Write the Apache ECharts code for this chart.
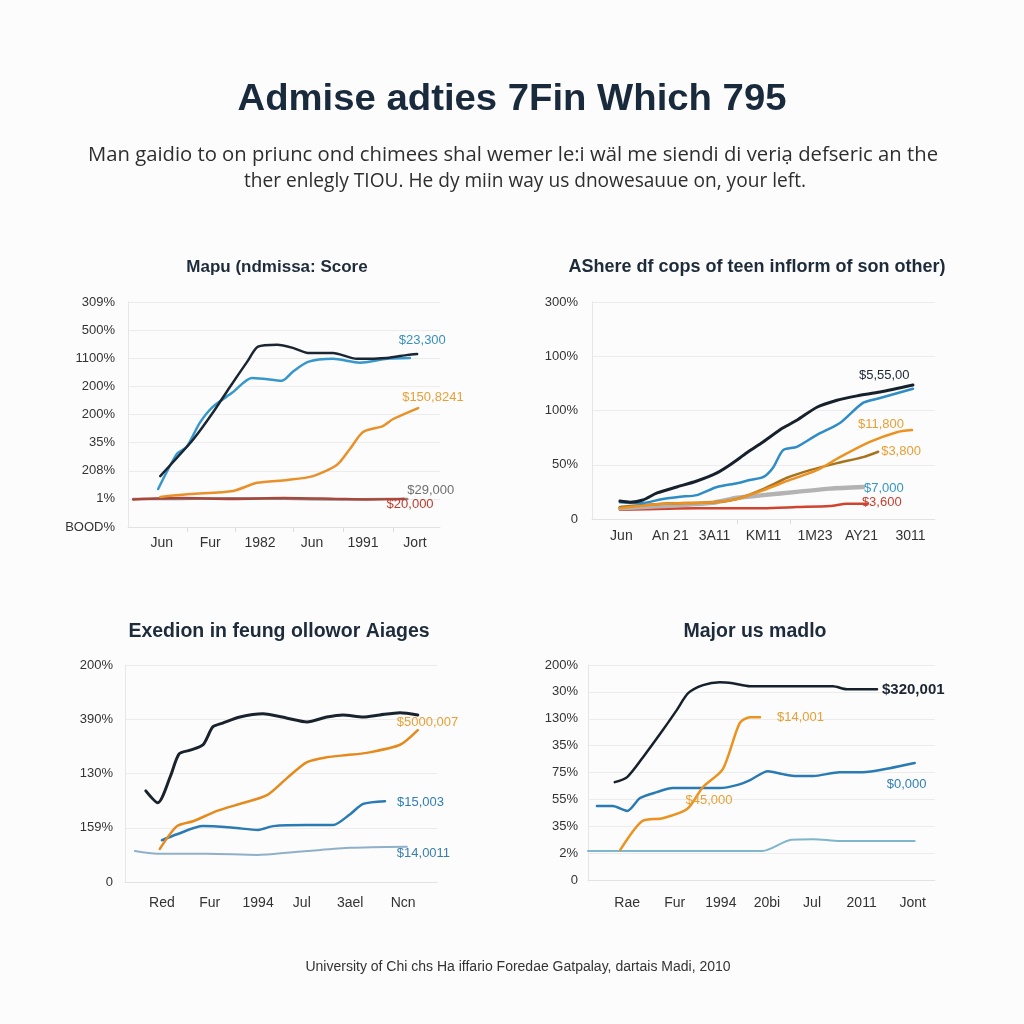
<!DOCTYPE html>
<html><head><meta charset="utf-8">
<script src="https://cdn.jsdelivr.net/npm/echarts@6/dist/echarts.min.js"></script>
<style>html,body{margin:0;padding:0;background:#fcfcfc}#c{width:1024px;height:1024px}</style>
</head><body><div id="c"></div>
<script>
// ---------- texts ----------
const mainTitle = 'Admise adties 7Fin Which 795';
const subLine1 = 'Man gaidio to on priunc ond chimees shal wemer le:i wäl me siendi di veriạ defseric an the';
const subLine2 = 'ther enlegly TIOU. He dy miin way us dnowesauue on, your left.';
const footer = 'University of Chi chs Ha iffario Foredae Gatpalay, dartais Madi, 2010';

// ---------- panel 1 ----------
const p1Title = 'Mapu (ndmissa: Score';
const p1YLabels = ['BOOD%','1%','208%','35%','200%','200%','1100%','500%','309%'];
const p1XLabels = ['Jun','Fur','1982','Jun','1991','Jort'];
const p1XPos = [0.65,1.58,2.54,3.54,4.52,5.52];
const p1Black = [[0.62,1.81],[0.94,2.46],[1.25,3.1],[1.63,4.06],[1.96,4.98],[2.29,5.87],[2.5,6.41],[2.87,6.48],[3.17,6.37],[3.46,6.19],[3.94,6.19],[4.4,5.98],[4.98,6.01],[5.38,6.12],[5.56,6.15]];
const p1Blue = [[0.58,1.35],[0.94,2.6],[1.13,2.85],[1.38,3.7],[1.63,4.27],[2.0,4.77],[2.38,5.3],[2.6,5.27],[2.96,5.2],[3.17,5.52],[3.46,5.87],[3.94,5.98],[4.46,5.84],[4.98,5.98],[5.42,6.01]];
const p1Orange = [[0.62,1.07],[1.19,1.17],[2.02,1.28],[2.48,1.57],[3.06,1.67],[3.56,1.81],[4.02,2.21],[4.27,2.78],[4.52,3.38],[4.9,3.59],[5.1,3.84],[5.58,4.23]];
const p1Gray = [[0.1,1.0],[1,1.0],[2,1.02],[3,1.0],[4,0.98],[5,1.0],[5.37,1.0]];
const p1Red = [[0.1,0.98],[1,1.03],[2,1.0],[3,1.03],[4,1.0],[4.6,0.98],[5.3,1.0]];

// ---------- panel 2 ----------
const p2Title = 'AShere df cops of teen inflorm of son other)';
const p2YLabels = ['0','50%','100%','100%','300%'];
const p2XLabels = ['Jun','An 21','3A11','KM11','1M23','AY21','3011'];
const p2XPos = [0.6,1.6,2.5,3.5,4.55,5.5,6.5];
const p2Black = [[0.57,0.33],[0.78,0.31],[1.04,0.35],[1.33,0.48],[1.73,0.59],[2.14,0.7],[2.55,0.85],[2.82,1.0],[3.16,1.22],[3.49,1.42],[3.9,1.68],[4.18,1.82],[4.59,2.06],[5.0,2.19],[5.41,2.27],[5.88,2.34],[6.55,2.47]];
const p2Blue = [[0.57,0.31],[0.98,0.29],[1.45,0.37],[1.8,0.41],[2.14,0.44],[2.55,0.59],[2.96,0.66],[3.22,0.72],[3.49,0.77],[3.69,0.94],[3.9,1.27],[4.18,1.33],[4.59,1.55],[5.06,1.77],[5.53,2.14],[5.88,2.23],[6.55,2.4]];
const p2Orange = [[0.57,0.2],[1.45,0.28],[2.47,0.31],[2.96,0.37],[3.49,0.53],[4.04,0.72],[4.59,0.9],[5.06,1.14],[5.67,1.42],[6.22,1.6],[6.53,1.64]];
const p2Brown = [[0.57,0.22],[1.45,0.28],[2.47,0.31],[2.96,0.37],[3.49,0.55],[3.98,0.76],[4.45,0.9],[5.0,1.03],[5.53,1.14],[5.84,1.24]];
const p2Gray = [[0.57,0.2],[1.45,0.24],[2.47,0.3],[2.96,0.39],[3.49,0.44],[4.18,0.5],[4.86,0.56],[5.53,0.59]];
const p2Red = [[0.57,0.17],[2.14,0.2],[3.49,0.2],[4.18,0.22],[4.86,0.24],[5.2,0.28],[5.61,0.28]];

// ---------- panel 3 ----------
const p3Title = 'Exedion in feung ollowor Aiages';
const p3YLabels = ['0','159%','130%','390%','200%'];
const p3XLabels = ['Red','Fur','1994','Jul','3ael','Ncn'];
const p3XPos = [0.71,1.63,2.56,3.4,4.33,5.35];
const p3Black = [[0.4,1.68],[0.63,1.46],[0.87,1.94],[1.04,2.36],[1.25,2.43],[1.5,2.53],[1.69,2.86],[1.88,2.93],[2.21,3.04],[2.65,3.1],[3.12,3.02],[3.5,2.95],[3.88,3.04],[4.19,3.08],[4.58,3.04],[4.9,3.08],[5.29,3.12],[5.63,3.08]];
const p3Orange = [[0.67,0.61],[1.0,1.03],[1.31,1.12],[1.77,1.31],[2.21,1.44],[2.73,1.6],[3.12,1.92],[3.5,2.21],[3.88,2.3],[4.27,2.34],[4.65,2.38],[5.29,2.53],[5.63,2.8]];
const p3Blue = [[0.71,0.77],[1.0,0.88],[1.5,1.03],[2.08,1.0],[2.56,0.96],[2.85,1.03],[3.5,1.05],[4.0,1.05],[4.33,1.25],[4.58,1.44],[5.0,1.49]];
const p3Steel = [[0.19,0.57],[0.62,0.52],[1.58,0.52],[2.56,0.5],[3.5,0.57],[4.33,0.63],[5.42,0.65]];

// ---------- panel 4 ----------
const p4Title = 'Major us madlo';
const p4YLabels = ['0','2%','35%','55%','75%','35%','130%','30%','200%'];
const p4XLabels = ['Rae','Fur','1994','20bi','Jul','2011','Jont'];
const p4XPos = [0.79,1.75,2.68,3.61,4.52,5.52,6.55];
const p4Black = [[0.54,3.64],[0.79,3.83],[1.11,4.57],[1.51,5.58],[1.79,6.32],[2.02,6.95],[2.32,7.25],[2.66,7.36],[2.92,7.32],[3.27,7.21],[3.87,7.21],[4.54,7.21],[4.94,7.21],[5.22,7.1],[5.83,7.1]];
const p4Blue = [[0.18,2.75],[0.5,2.75],[0.79,2.57],[1.05,3.05],[1.39,3.27],[1.71,3.42],[2.2,3.42],[2.66,3.42],[3.0,3.53],[3.27,3.72],[3.63,4.05],[3.93,3.94],[4.21,3.87],[4.54,3.87],[5.08,4.01],[5.54,4.01],[6.09,4.16],[6.59,4.35]];
const p4Orange = [[0.65,1.12],[1.09,2.19],[1.51,2.3],[2.0,2.64],[2.32,3.46],[2.72,4.13],[3.06,5.84],[3.27,6.06],[3.47,6.06]];
const p4Teal = [[0,1.08],[3.52,1.08],[4.1,1.5],[4.55,1.52],[5.08,1.45],[6.59,1.45]];

const FONT = '"Liberation Sans", Arial, sans-serif';

// measure helper for horizontal fitting of header text
const mctx = document.createElement('canvas').getContext('2d');
function fitScale(text, font, target) { mctx.font = font; const w = mctx.measureText(text).width; return w > 0 ? target / w : 1; }

const titleFont = 'bold 36px "Liberation Sans", Arial, sans-serif';
const subFont = '20px "Open Sans", "Liberation Sans", sans-serif';
const titleScale = fitScale(mainTitle, titleFont, 549);
const subScale1 = fitScale(subLine1, subFont, 850);
const subScale2 = fitScale(subLine2, subFont, 562);

const panels = [
  {title:p1Title, tx:277, ty:267, tsize:17, grid:{left:128, top:302, width:312, height:225}, xMax:6, yMax:8,
   yLabels:p1YLabels, xLabels:p1XLabels, xPos:p1XPos, xTicks:[1.13,2.06,3.17,4.13,5.1], yMargin:13, xMargin:9,
   series:[
     {d:p1Gray, c:'#8a8a8a', w:2.5, lab:'$29,000', lc:'#6f6f6f', off:[0,-8]},
     {d:p1Red, c:'#a8483c', w:2.5, lab:'$20,000', lc:'#c0392b', off:[-17,6]},
     {d:p1Orange, c:'#e8902a', w:2.5, lab:'$150,8241', lc:'#e8a035', off:[-16,-11]},
     {d:p1Blue, c:'#3597cc', w:2.5, lab:'$23,300', lc:'#3a8fc0', off:[-11,-18]},
     {d:p1Black, c:'#1c2633', w:2.5}
   ]},
  {title:p2Title, tx:757, ty:267, tsize:18, grid:{left:592, top:302, width:343, height:217}, xMax:7, yMax:4,
   yLabels:p2YLabels, xLabels:p2XLabels, xPos:p2XPos, xTicks:[2.96,4.04], yMargin:14, xMargin:10,
   series:[
     {d:p2Red, c:'#d0432f', w:2.5, lab:'$3,600', lc:'#c8402f', off:[-5,-1]},
     {d:p2Gray, c:'#b3b3b3', w:4.5, lab:'$7,000', lc:'#3596c4', off:[1,1]},
     {d:p2Brown, c:'#a8731e', w:2.5, lab:'$3,800', lc:'#e8a035', off:[3,0]},
     {d:p2Orange, c:'#eb9222', w:2.5, lab:'$11,800', lc:'#e8a035', off:[-54,-6]},
     {d:p2Blue, c:'#2e8cc6', w:2.5},
     {d:p2Black, c:'#17212c', w:3, lab:'$5,55,00', lc:'#1c2633', off:[-54,-10]}
   ]},
  {title:p3Title, tx:279, ty:632, tsize:19.5, grid:{left:125, top:665, width:312, height:217}, xMax:6, yMax:4,
   yLabels:p3YLabels, xLabels:p3XLabels, xPos:p3XPos, xTicks:[], yMargin:12, xMargin:14,
   series:[
     {d:p3Steel, c:'#8fb0c8', w:2, lab:'$14,0011', lc:'#3a7fb0', off:[-10,7]},
     {d:p3Blue, c:'#2a7ab4', w:2.5, lab:'$15,003', lc:'#2f7fb5', off:[12,1]},
     {d:p3Orange, c:'#e58a1d', w:2.5, lab:'$5000,007', lc:'#e8a035', off:[-21,-8]},
     {d:p3Black, c:'#1a232d', w:3}
   ]},
  {title:p4Title, tx:755, ty:632, tsize:19.5, grid:{left:588, top:665, width:347, height:215}, xMax:7, yMax:8,
   yLabels:p4YLabels, xLabels:p4XLabels, xPos:p4XPos, xTicks:[], yMargin:10, xMargin:16,
   series:[
     {d:p4Teal, c:'#7fb6cc', w:2},
     {d:p4Blue, c:'#2a7ab4', w:2.5, lab:'$0,000', lc:'#2f7fb5', off:[-28,21]},
     {d:p4Orange, c:'#ec9220', w:2.5, lab:'$14,001', lc:'#e8a035', off:[17,0],
      mark:{coord:[2.32,3.46], text:'$45,000', off:[6,13]}},
     {d:p4Black, c:'#17212c', w:2.5, lab:'$320,001', lc:'#1c2633', off:[5,1], bold:true}
   ]}
];

const graphics = [
  {type:'text', x:512, y:100, scaleX:titleScale, silent:true,
   style:{text:mainTitle, font:titleFont, fill:'#1a2a3d', textAlign:'center', textVerticalAlign:'middle'}},
  {type:'text', x:513, y:155, scaleX:subScale1, silent:true,
   style:{text:subLine1, font:subFont, fill:'#2e2e2e', textAlign:'center', textVerticalAlign:'middle'}},
  {type:'text', x:525, y:181, scaleX:subScale2, silent:true,
   style:{text:subLine2, font:subFont, fill:'#2e2e2e', textAlign:'center', textVerticalAlign:'middle'}},
  {type:'text', x:518, y:967, silent:true,
   style:{text:footer, font:'14px "Liberation Sans", Arial, sans-serif', fill:'#333', textAlign:'center', textVerticalAlign:'middle'}}
];

const option = {
  backgroundColor:'#fcfcfc',
  animation:false,
  graphic:graphics,
  grid:[], xAxis:[], yAxis:[], series:[]
};

panels.forEach((p, i) => {
  graphics.push({type:'text', x:p.tx, y:p.ty, silent:true,
    style:{text:p.title, font:'600 ' + p.tsize + 'px "Liberation Sans", Arial, sans-serif', fill:'#1d2b3a',
      textAlign:'center', textVerticalAlign:'middle'}});
  option.grid.push(p.grid);
  const xl = p.xLabels, xp = p.xPos;
  option.xAxis.push({type:'value', gridIndex:i, min:0, max:p.xMax,
    axisLine:{show:true, lineStyle:{color:'#e2e2e2'}},
    axisTick:{show:p.xTicks.length>0, customValues:p.xTicks, length:5, lineStyle:{color:'#dcdcdc'}},
    splitLine:{show:false},
    axisLabel:{customValues:xp, margin:p.xMargin, fontFamily:FONT, fontSize:14, color:'#333',
      formatter:(v)=>{ let k=0, best=1e9; xp.forEach((q,j)=>{ if(Math.abs(q-v)<best){best=Math.abs(q-v);k=j;} }); return xl[k]; }}
  });
  const yl = p.yLabels;
  option.yAxis.push({type:'value', gridIndex:i, min:0, max:p.yMax, interval:1,
    axisLine:{show:true, lineStyle:{color:'#e6e6e6'}}, axisTick:{show:false},
    splitLine:{show:true, lineStyle:{color:'#ececec', width:1}},
    axisLabel:{margin:p.yMargin, fontFamily:FONT, fontSize:13, color:'#333',
      formatter:(v)=> yl[Math.round(v)] }
  });
  p.series.forEach(s => {
    const ser = {type:'line', xAxisIndex:i, yAxisIndex:i, data:s.d, showSymbol:false, symbol:'none',
      smooth:0.25, lineStyle:{color:s.c, width:s.w, cap:'round', join:'round'}, itemStyle:{color:s.c}, silent:true};
    if (s.lab) {
      ser.endLabel = {show:true, formatter:s.lab, color:s.lc, distance:0, offset:s.off,
        fontFamily:FONT, fontSize: s.bold?15:13, fontWeight: s.bold?'bold':'normal'};
    }
    if (s.mark) {
      ser.markPoint = {symbol:'circle', symbolSize:0, silent:true, animation:false,
        data:[{coord:s.mark.coord, label:{show:true, formatter:s.mark.text, color:'#e8a035', offset:s.mark.off,
          fontFamily:FONT, fontSize:13}}]};
    }
    option.series.push(ser);
  });
});

const chart = echarts.init(document.getElementById('c'), null, {renderer:'canvas'});
chart.setOption(option);
</script></body></html>
